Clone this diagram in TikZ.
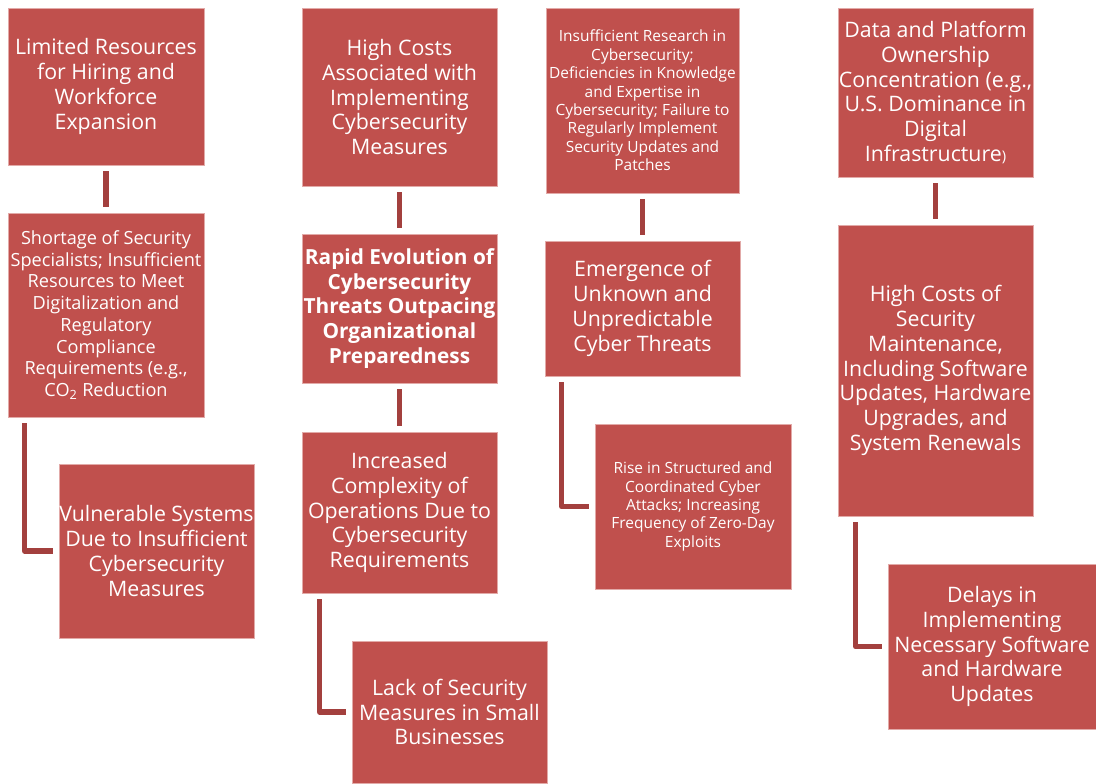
\documentclass[tikz,border=0pt]{standalone}
\usepackage{fontspec}
\setmainfont{Open Sans}
\usetikzlibrary{calc}

\definecolor{boxfill}{HTML}{C0504D}
\definecolor{boxedge}{HTML}{E2AAA8}
\definecolor{linkcol}{HTML}{A3403E}

\tikzset{
  box/.style 2 args={draw=boxedge, line width=0.5pt, fill=boxfill,
    text=white, align=center, inner sep=0pt,
    minimum width=#1*0.75pt, minimum height=#2*0.75pt},
  big/.style={font=\fontsize{16}{18.6}\selectfont},
  mid/.style={font=\fontsize{13.6}{16.3}\selectfont},
  small/.style={font=\fontsize{11.6}{13.8}\selectfont},
  bigbold/.style={font=\fontsize{15.6}{18.6}\selectfont\bfseries},
  link/.style={draw=linkcol, line width=4.1pt, line join=round},
  gap/.style={shorten <=4.5pt, shorten >=4.5pt}
}

\begin{document}
\begin{tikzpicture}[x=0.75pt, y=-0.75pt]
\useasboundingbox (0,0) rectangle (1096,783);

% column 1
\node[box={196}{157}, big] (n1) at (106,86.5)
  {Limited Resources\\for Hiring and\\Workforce\\Expansion};
\node[box={196}{204}, mid] (n2) at (106,315)
  {Shortage of Security\\Specialists; Insufficient\\Resources to Meet\\Digitalization and\\Regulatory\\Compliance\\Requirements (e.g.,\\CO\textsubscript{2} Reduction};
\node[box={195}{174}, big] (n3) at (156.5,551)
  {Vulnerable Systems\\Due to Insufficient\\Cybersecurity\\Measures};

% column 2
\node[box={195}{178}, big] (n4) at (399.5,97)
  {High Costs\\Associated with\\Implementing\\Cybersecurity\\Measures};
\node[box={195}{149}, bigbold] (n5) at (399.5,308.5)
  {Rapid Evolution of\\Cybersecurity\\Threats Outpacing\\Organizational\\Preparedness};
\node[box={195}{161}, big] (n6) at (399.5,512.5)
  {Increased\\Complexity of\\Operations Due to\\Cybersecurity\\Requirements};
\node[box={195}{142}, big] (n7) at (449.5,712)
  {Lack of Security\\Measures in Small\\Businesses};

% column 3
\node[box={193}{185}, small] (n8) at (642.5,100.5)
  {Insufficient Research in\\Cybersecurity;\\Deficiencies in Knowledge\\and Expertise in\\Cybersecurity; Failure to\\Regularly Implement\\Security Updates and\\Patches};
\node[box={195}{135}, big] (n9) at (642.5,308.5)
  {Emergence of\\Unknown and\\Unpredictable\\Cyber Threats};
\node[box={196}{165}, small] (n10) at (693,506.5)
  {Rise in Structured and\\Coordinated Cyber\\Attacks; Increasing\\Frequency of Zero-Day\\Exploits};

% column 4
\node[box={195}{169}, big] (n11) at (935.5,92.5)
  {Data and Platform\\Ownership\\Concentration (e.g.,\\U.S. Dominance in\\Digital\\Infrastructure{\fontsize{11}{13}\selectfont)}};
\node[box={195}{291}, big] (n12) at (935.5,370.5)
  {High Costs of\\Security\\Maintenance,\\Including Software\\Updates, Hardware\\Upgrades, and\\System Renewals};
\node[box={208}{165}, big] (n13) at (992,646.5)
  {Delays in\\Implementing\\Necessary Software\\and Hardware\\Updates};

% straight links
\draw[link, gap] (n1.south) -- (n2.north);
\draw[link, gap] (n4.south) -- (n5.north);
\draw[link, gap] (n5.south) -- (n6.north);
\draw[link, gap] (n8.south) -- (n9.north);
\draw[link, gap] (n11.south) -- (n12.north);

% elbow links
\draw[link] ($(n2.south west)+(17,6)$) |- ([xshift=-4.5pt]n3.west);
\draw[link] ($(n6.south west)+(18,6)$) |- ([xshift=-4.5pt]n7.west);
\draw[link] ($(n9.south west)+(17,6)$) |- ([xshift=-4pt]n10.west);
\draw[link] ($(n12.south west)+(18,6)$) |- ([xshift=-4pt]n13.west);
\end{tikzpicture}
\end{document}
